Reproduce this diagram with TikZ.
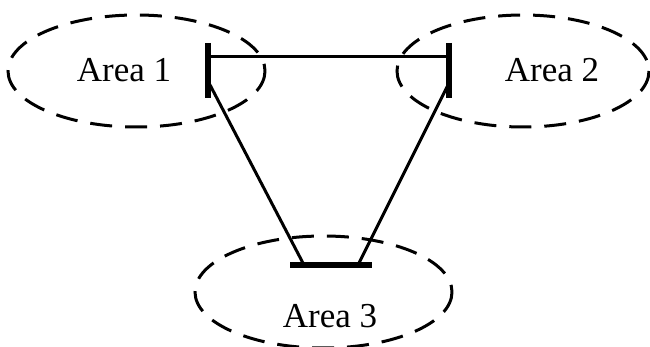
\documentclass[tikz,border=0pt]{standalone}
\usepackage{fontspec}
\setmainfont{Liberation Serif}
\begin{document}
\begin{tikzpicture}[x=1pt,y=-1pt,
  area/.style={draw, dash pattern=on 22pt off 13pt, line width=3pt},
  bus/.style={line width=5.5pt},
  link/.style={line width=3pt},
  lbl/.style={font=\fontsize{35}{40}\selectfont, inner sep=0pt}]
\useasboundingbox (0,0) rectangle (650,347);
\draw[area] (136.5,71) ellipse [x radius=128.5, y radius=56];
\draw[area] (523,71) ellipse [x radius=126, y radius=56];
\draw[area] (323.5,292) ellipse [x radius=128.5, y radius=56];
\node[lbl] (a1) at (124,70) {Area 1};
\node[lbl] (a2) at (552,70) {Area 2};
\node[lbl] (a3) at (330,316) {Area 3};
\coordinate (b1t) at (208,43); \coordinate (b1b) at (208,98);
\coordinate (b2t) at (449,43); \coordinate (b2b) at (449,98);
\coordinate (b3l) at (290,265); \coordinate (b3r) at (372,265);
\draw[bus] (b1t) -- (b1b);
\draw[bus] (b2t) -- (b2b);
\draw[bus] (b3l) -- (b3r);
\coordinate (p1) at (208,57); \coordinate (p2) at (449,57);
\coordinate (q1) at (209,83); \coordinate (q2) at (448,85);
\coordinate (r1) at (304,265); \coordinate (r2) at (358,265);
\draw[link] (p1) -- (p2);
\draw[link] (q1) -- (r1);
\draw[link] (q2) -- (r2);
\end{tikzpicture}
\end{document}
